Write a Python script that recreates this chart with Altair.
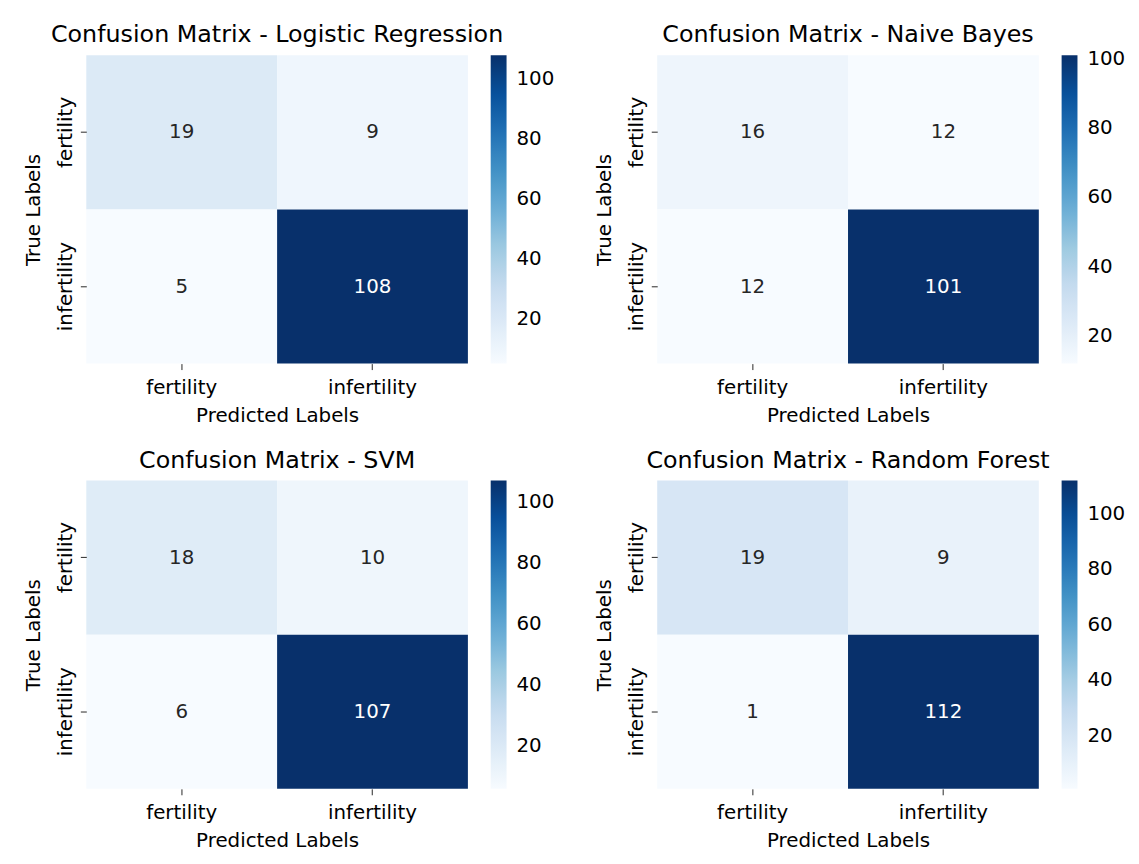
import altair as alt
import pandas as pd

models = ["Logistic Regression", "Naive Bayes", "SVM", "Random Forest"]
labels = ["fertility", "infertility"]
# row-major: (true fertility, pred fertility), (true fertility, pred infertility), (true infertility, ...)
lr_vals = [19, 9, 5, 108]
nb_vals = [16, 12, 12, 101]
svm_vals = [18, 10, 6, 107]
rf_vals = [19, 9, 1, 112]
cbar_ticks = [20, 40, 60, 80, 100]

BLUES = ["#f7fbff", "#deebf7", "#c6dbef", "#9ecae1", "#6baed6",
         "#4292c6", "#2171b5", "#08519c", "#08306b"]
FONT = "DejaVu Sans"
FS = 20

matrices = {"Logistic Regression": lr_vals, "Naive Bayes": nb_vals,
            "SVM": svm_vals, "Random Forest": rf_vals}

rows = []
for m in models:
    vals = matrices[m]
    k = 0
    for t in labels:
        for p in labels:
            rows.append({"model": m, "true": t, "pred": p, "count": vals[k]})
            k += 1
df = pd.DataFrame(rows)


def panel(name):
    vals = matrices[name]
    lo, hi = min(vals), max(vals)
    base = alt.Chart(df).transform_filter(alt.datum.model == name)
    x = alt.X("pred:N", sort=labels,
              scale=alt.Scale(paddingInner=0, paddingOuter=0),
              axis=alt.Axis(title="Predicted Labels", labelAngle=0, domain=False,
                            tickSize=6, tickColor="#262626", labelPadding=8,
                            labelFontSize=FS, titleFontSize=FS, titleFontWeight="normal",
                            titlePadding=8, labelColor="black", titleColor="black",
                            labelFont=FONT, titleFont=FONT))
    y = alt.Y("true:N", sort=labels,
              scale=alt.Scale(paddingInner=0, paddingOuter=0),
              axis=alt.Axis(title="True Labels", labelAngle=270, labelAlign="center",
                            labelBaseline="bottom", domain=False,
                            tickSize=6, tickColor="#262626", labelPadding=5,
                            labelFontSize=FS, titleFontSize=FS, titleFontWeight="normal",
                            titlePadding=12, labelColor="black", titleColor="black",
                            labelFont=FONT, titleFont=FONT))
    rect = base.mark_rect().encode(
        x=x, y=y,
        color=alt.Color("count:Q",
                        scale=alt.Scale(domain=[lo, hi], range=BLUES, interpolate="rgb",
                                        nice=False, zero=False),
                        legend=alt.Legend(title=None, orient="right", offset=23,
                                          direction="vertical", gradientLength=311,
                                          gradientThickness=16, gradientStrokeWidth=0,
                                          values=cbar_ticks, labelFontSize=FS,
                                          labelFont=FONT, labelColor="black",
                                          labelOffset=10, padding=0)))
    text = base.mark_text(fontSize=FS, font=FONT).encode(
        x=x, y=y, text="count:Q",
        color=alt.condition(f"(datum.count - {lo}) / ({hi} - {lo}) > 0.45",
                            alt.value("white"), alt.value("#262626")))
    return alt.layer(rect, text).properties(
        width=385, height=311,
        title=alt.TitleParams(text=f"Confusion Matrix - {name}", fontSize=24,
                              fontWeight="normal", font=FONT, color="black",
                              anchor="middle", frame="group", offset=8))


def row(a, b):
    return alt.hconcat(panel(a), panel(b), spacing=39).resolve_scale(
        color="independent").resolve_legend(color="independent")


chart = alt.vconcat(row(models[0], models[1]), row(models[2], models[3]),
                    spacing=24).resolve_scale(
    color="independent").resolve_legend(color="independent").configure_view(
    stroke=None).properties(padding={"left": 15, "top": 12, "right": 5, "bottom": 5})

chart.save("out.html", embed_options={"renderer": "svg", "actions": False})
